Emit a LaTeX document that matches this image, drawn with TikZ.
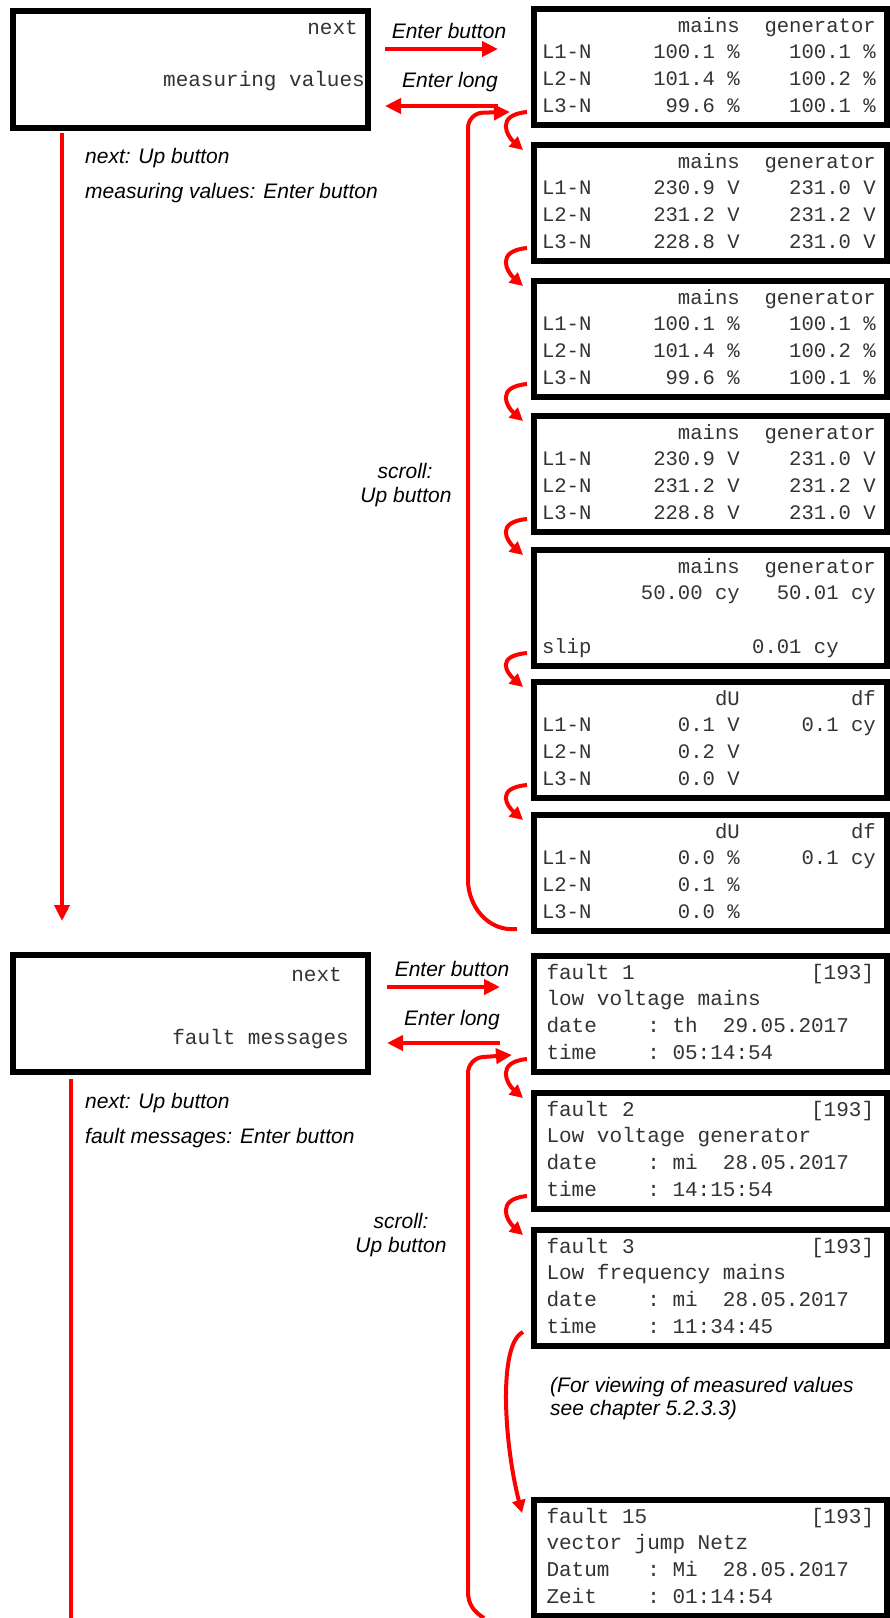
\documentclass[tikz,border=0pt]{standalone}
\usepackage{fontspec}
\setmainfont{Liberation Sans}
\newfontfamily\monofam{Liberation Mono}
\usetikzlibrary{arrows.meta}
\newcommand\mtxt{\monofam\fontsize{21}{26.8}\selectfont}
\newcommand\mtxtb{\monofam\fontsize{20.6}{26.8}\selectfont}
\newcommand\itxt{\itshape\fontsize{21}{24}\selectfont}
\begin{document}
\begin{tikzpicture}[x=1pt,y=-1pt,
  scr/.style={draw=black, line width=6pt, outer sep=3pt, anchor=north west, minimum height=116pt, inner ysep=0pt, align=left, font=\mtxt, text=black!80, execute at begin node={\def~{\hphantom{0}}\hyphenpenalty=10000\exhyphenpenalty=10000\hbadness=10000\hfuzz=20pt\strut}, execute at end node=\strut},
  mscr/.style={scr, font=\mtxtb, inner xsep=8pt, text width=337pt},
  fscr/.style={scr, inner xsep=12.5pt, text width=328pt},
  menu/.style={draw=black, line width=6pt, outer sep=3pt, anchor=north west, minimum width=355pt, minimum height=117pt, inner sep=0pt},
  mlab/.style={font=\mtxt, text=black!80, anchor=base east, inner sep=0pt},
  ilab/.style={font=\itxt, text=black, inner sep=0pt},
  rarr/.style={draw=red, line width=4pt, -{Triangle[length=16pt,width=15pt]}},
  sarr/.style={draw=red, line width=4pt, -{Triangle[length=13pt,width=13pt]}},
  rline/.style={draw=red, line width=4pt},
]
\useasboundingbox (0,0) rectangle (890,1618);

% ---------- menu boxes ----------
\node[menu] (mv) at (10,8) {};
\node[mlab] (mvn) at (358,34) {next};
\node[mlab] (mvt) at (365,86) {measuring values};
\node[menu] (fm) at (10,952) {};
\node[mlab] (fmn) at (342,981) {next};
\node[mlab] (fmt) at (349,1044) {fault messages};

% ---------- measuring screens ----------
\node[mscr] (m1) at (531,6) {\mbox{}~~~~~~~~~~~mains~~generator\\L1-N~~~~~100.1~\%~~~~100.1~\%\\L2-N~~~~~101.4~\%~~~~100.2~\%\\L3-N~~~~~~99.6~\%~~~~100.1~\%};
\node[mscr] (m2) at (531,142) {\mbox{}~~~~~~~~~~~mains~~generator\\L1-N~~~~~230.9~V~~~~231.0~V\\L2-N~~~~~231.2~V~~~~231.2~V\\L3-N~~~~~228.8~V~~~~231.0~V};
\node[mscr] (m3) at (531,278) {\mbox{}~~~~~~~~~~~mains~~generator\\L1-N~~~~~100.1~\%~~~~100.1~\%\\L2-N~~~~~101.4~\%~~~~100.2~\%\\L3-N~~~~~~99.6~\%~~~~100.1~\%};
\node[mscr] (m4) at (531,413) {\mbox{}~~~~~~~~~~~mains~~generator\\L1-N~~~~~230.9~V~~~~231.0~V\\L2-N~~~~~231.2~V~~~~231.2~V\\L3-N~~~~~228.8~V~~~~231.0~V};
\node[mscr] (m5) at (531,547) {\mbox{}~~~~~~~~~~~mains~~generator\\\mbox{}~~~~~~~~50.00~cy~~~50.01~cy\\\mbox{}\\slip~~~~~~~~~~~~~0.01~cy};
\node[mscr] (m6) at (531,679) {\mbox{}~~~~~~~~~~~~~~dU~~~~~~~~~df\\L1-N~~~~~~~0.1~V~~~~~0.1~cy\\L2-N~~~~~~~0.2~V\\L3-N~~~~~~~0.0~V};
\node[mscr] (m7) at (531,812) {\mbox{}~~~~~~~~~~~~~~dU~~~~~~~~~df\\L1-N~~~~~~~0.0~\%~~~~~0.1~cy\\L2-N~~~~~~~0.1~\%\\L3-N~~~~~~~0.0~\%};

% ---------- fault screens ----------
\node[fscr] (f1) at (531,953) {fault~1~~~~~~~~~~~~~~[193]\\low~voltage~mains\\date~~~~:~th~~29.05.2017\\time~~~~:~05:14:54};
\node[fscr] (f2) at (531,1090) {fault~2~~~~~~~~~~~~~~[193]\\Low~voltage~generator\\date~~~~:~mi~~28.05.2017\\time~~~~:~14:15:54};
\node[fscr] (f3) at (531,1227) {fault~3~~~~~~~~~~~~~~[193]\\Low~frequency~mains\\date~~~~:~mi~~28.05.2017\\time~~~~:~11:34:45};
\node[fscr] (f15) at (531,1497) {fault~15~~~~~~~~~~~~~[193]\\vector~jump~Netz\\Datum~~~:~Mi~~28.05.2017\\Zeit~~~~:~01:14:54};

% ---------- labels ----------
\node[ilab, anchor=base] (eb1) at (449,38) {Enter button};
\node[ilab, anchor=base] (el1) at (450,87) {Enter long};
\node[ilab, anchor=base west] (h1a) at (85,163) {next: Up button};
\node[ilab, anchor=base west] (h1b) at (85,198) {measuring values: Enter button};
\node[ilab, anchor=base] (s1a) at (405,478) {scroll:};
\node[ilab, anchor=base] (s1b) at (406,502) {Up button};

\node[ilab, anchor=base] (eb2) at (452,976) {Enter button};
\node[ilab, anchor=base] (el2) at (452,1025.5) {Enter long};
\node[ilab, anchor=base west] (h2a) at (85,1108) {next: Up button};
\node[ilab, anchor=base west] (h2b) at (85,1143) {fault messages: Enter button};
\node[ilab, anchor=base] (s2a) at (401,1228) {scroll:};
\node[ilab, anchor=base] (s2b) at (401,1252) {Up button};

\node[ilab, anchor=base west] (nt1) at (550,1392) {(For viewing of measured values};
\node[ilab, anchor=base west] (nt2) at (550,1415) {see chapter 5.2.3.3)};

% ---------- connectors ----------
\draw[rarr] ([xshift=14pt,yshift=-41pt]mv.north east) -- ([xshift=-33pt,yshift=-43pt]m1.north west);
\draw[rarr] ([xshift=-33pt,yshift=-100pt]m1.north west) -- ([xshift=14pt,yshift=-98pt]mv.north east);
\draw[rarr] ([xshift=16pt,yshift=-35pt]fm.north east) -- ([xshift=-31pt,yshift=-34pt]f1.north west);
\draw[rarr] ([xshift=-31pt,yshift=-90pt]f1.north west) -- ([xshift=16pt,yshift=-91pt]fm.north east);

\draw[rarr] ([xshift=52pt,yshift=-2pt]mv.south west) -- ([xshift=52pt,yshift=31pt]fm.north west);
\coordinate (v2end) at (71,1618);
\draw[rline] ([xshift=61pt,yshift=-4pt]fm.south west) -- (v2end);

\foreach \a/\b in {m1/m2,m2/m3,m3/m4,m4/m5,m5/m6,m6/m7,f1/f2,f2/f3}
  \draw[sarr] ([xshift=-4pt,yshift=16pt]\a.south west) .. controls +(-32,3) and +(-16,-14) .. ([xshift=-8pt,yshift=-8pt]\b.north west);

\draw[sarr] ([xshift=-8pt,yshift=17pt]f3.south west) .. controls +(-25,12) and +(-18,-70) .. ([xshift=-9pt,yshift=-16pt]f15.north west);

\coordinate (l1a) at (468,880);
\coordinate (l1b) at (468,113);
\draw[rarr] ([xshift=-14pt,yshift=5pt]m7.south west) .. controls +(-30,3) and +(0,25) .. (l1a)
  [rounded corners=15pt] -- (l1b) -- ([xshift=-21pt,yshift=16pt]m1.south west);

\coordinate (l2s) at (484,1618);
\coordinate (l2a) at (468,1592);
\coordinate (l2b) at (468,1058);
\draw[rarr] (l2s) .. controls +(-10,-6) and +(0,12) .. (l2a)
  [rounded corners=15pt] -- (l2b) -- ([xshift=-19pt,yshift=20pt]f1.south west);
\end{tikzpicture}
\end{document}
